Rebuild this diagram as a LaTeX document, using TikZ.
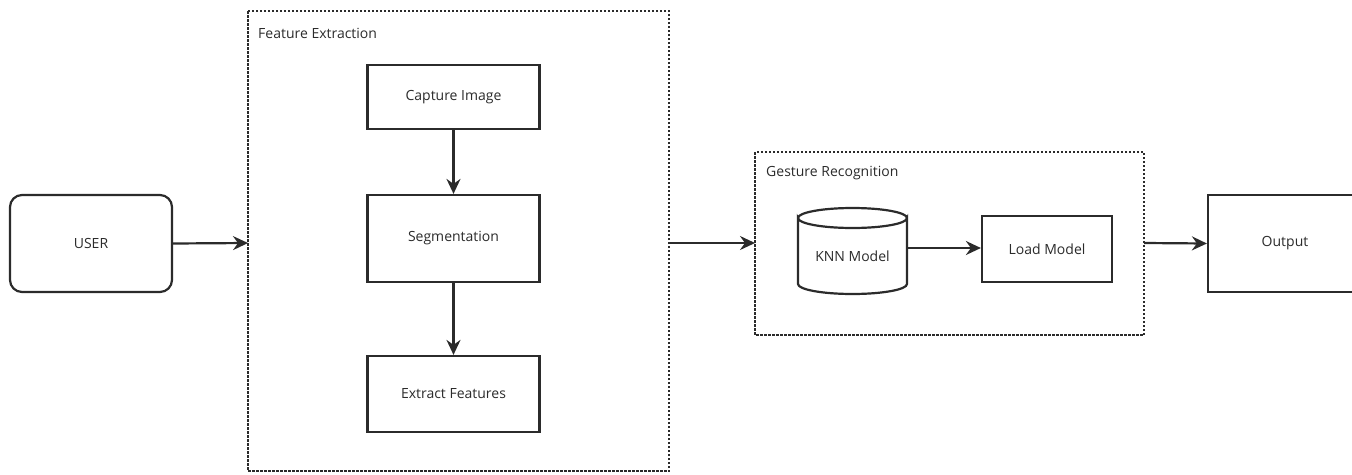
\documentclass[tikz,border=0pt]{standalone}
\usepackage{fontspec}
\setmainfont{Open Sans}
\usetikzlibrary{arrows.meta,shapes.geometric}
\definecolor{ink}{HTML}{2B2B2B}
\tikzset{
  box/.style={draw=ink,line width=2.2pt,fill=white,minimum width=#1,inner sep=0pt,font=\fontsize{14}{16}\selectfont,text=ink},
  group/.style={draw=ink,line width=1.3pt,dash pattern=on 2.5pt off 1.5pt},
  grouplabel/.style={anchor=west,font=\fontsize{14}{16}\selectfont,text=ink,inner sep=0pt},
  conn/.style={draw=ink,line width=2.2pt,-{Stealth[length=15pt,width=14pt,inset=5pt]}},
}
\begin{document}
\begin{tikzpicture}[x=1pt,y=-1pt]
\useasboundingbox (0,0) rectangle (1352,474);
% containers
\draw[group] (248,11) rectangle (669,471);
\node[grouplabel] (fetitle) at (258,33) {Feature Extraction};
\draw[group] (755,152) rectangle (1144,335);
\node[grouplabel] (grtitle) at (766,173) {Gesture Recognition};
\coordinate (feL) at (248,243);
\coordinate (feR) at (669,243);
\coordinate (grL) at (755,243);
\coordinate (grR) at (1144,243);
% nodes
\node[box=162pt,minimum height=97pt,rounded corners=12pt] (user) at (91,243.5) {USER};
\node[box=172pt,minimum height=64pt] (cap) at (453.5,97) {Capture Image};
\node[box=172pt,minimum height=87pt] (seg) at (453.5,238.5) {Segmentation};
\node[box=172pt,minimum height=76pt] (ext) at (453.5,394) {Extract Features};
\node[box=130pt,minimum height=66pt] (load) at (1047,249) {Load Model};
\node[box=154pt,minimum height=97pt] (out) at (1285,243.5) {Output};
% cylinder KNN
\draw[draw=ink,line width=2.2pt,fill=white]
  (798,218) -- (798,284) arc[start angle=180,end angle=360,x radius=54.5pt,y radius=10pt]
  -- (907,218) arc[start angle=0,end angle=-180,x radius=54.5pt,y radius=10pt] -- cycle;
\draw[draw=ink,line width=2.2pt] (798,218) arc[start angle=180,end angle=0,x radius=54.5pt,y radius=10pt];
\node[font=\fontsize{14}{16}\selectfont,text=ink,inner sep=0pt] (knn) at (852.5,256) {KNN Model};
\coordinate (knnR) at (907,248);
% connectors
\draw[conn] (user.east) -- (feL);
\draw[conn] (cap.south) -- (seg.north);
\draw[conn] (seg.south) -- (ext.north);
\draw[conn] (feR) -- (grL);
\draw[conn] (knnR) -- (load.west |- knnR);
\draw[conn] (grR) -- (out.west);
\end{tikzpicture}
\end{document}
